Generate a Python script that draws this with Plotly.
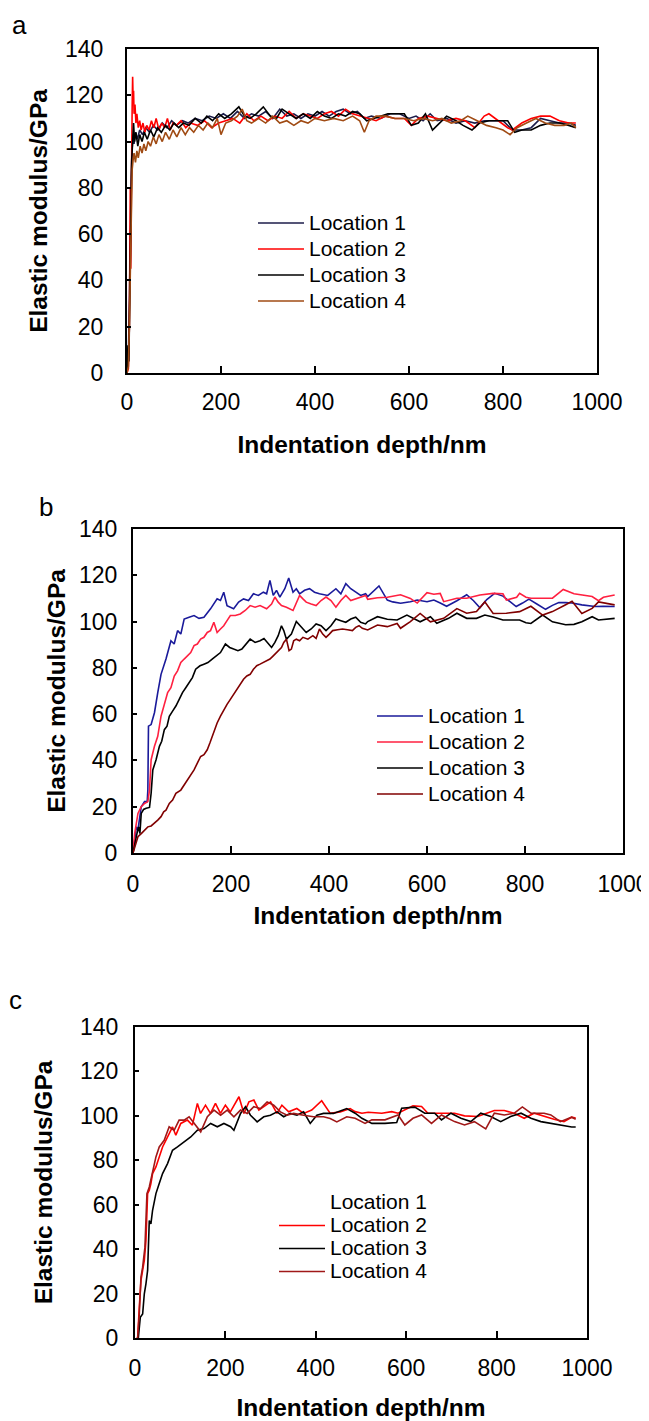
import plotly.graph_objects as go

# page body has an 8px margin, so the figure is 8px smaller than the window
OFF = 8
W, H = 649 - OFF, 1421 - OFF
FONT = 'Liberation Sans, Arial, sans-serif'

labels = ['Location 1', 'Location 2', 'Location 3', 'Location 4']
depth_ticks = [0, 200, 400, 600, 800, 1000]
depth_tick_text = ['0', '200', '400', '600', '800', '1000']

# ---- panel a ----
a_depth_1 = [0, 3, 5, 7, 9, 11, 13, 15, 18, 22, 27, 33, 40, 48, 56, 65, 75, 85, 95, 105, 118, 130, 145, 160,
             175, 190, 205, 220, 235, 250, 265, 280, 295, 310, 325, 340, 355, 370, 385, 400, 415, 430, 445,
             460, 475, 490, 505, 520, 540, 560, 580, 600, 615, 630, 645, 660, 680, 700, 720, 740, 760, 780,
             800, 820, 840, 860, 880, 900, 920, 940, 955]
a_mod_1 = [0, 8, 30, 62, 85, 97, 103, 99, 104, 101, 105, 103, 106, 104, 107, 105, 108, 106, 109, 107, 109, 108,
           110, 109, 111, 110, 112, 110, 113, 110, 112, 111, 113, 110, 114, 111, 112, 110, 112, 111, 113, 111,
           113, 114, 112, 113, 110, 111, 110, 112, 112, 110, 111, 109, 112, 109, 110, 108, 109, 108, 109, 109,
           109, 105, 105, 106, 110, 109, 108, 108, 107]

a_depth_2 = [0, 3, 5, 6, 7, 8, 9, 10, 11, 12, 13, 14, 15, 17, 19, 21, 24, 27, 30, 34, 38, 42, 47, 52, 57, 62,
             68, 74, 80, 86, 92, 98, 105, 115, 125, 135, 150, 165, 180, 195, 210, 225, 240, 255, 270, 285, 300,
             315, 330, 345, 360, 375, 390, 405, 420, 435, 450, 465, 480, 495, 510, 530, 550, 570, 590, 605, 620,
             640, 660, 680, 700, 720, 740, 760, 770, 790, 810, 820, 840, 860, 880, 900, 920, 940, 955]
a_mod_2 = [0, 2, 20, 55, 80, 45, 60, 95, 115, 128, 118, 122, 112, 116, 108, 112, 106, 109, 105, 108, 104, 107,
           105, 109, 106, 110, 105, 108, 106, 110, 105, 108, 107, 109, 106, 108, 107, 109, 106, 108, 109, 110,
           108, 112, 109, 111, 109, 111, 110, 113, 110, 112, 111, 110, 112, 113, 111, 114, 112, 111, 110, 109,
           111, 110, 110, 107, 110, 111, 110, 109, 110, 109, 106, 111, 112, 109, 106, 105, 108, 110, 111, 111,
           109, 108, 108]

a_depth_3 = [0, 2, 4, 6, 8, 10, 12, 14, 16, 19, 23, 27, 32, 37, 43, 50, 57, 65, 73, 82, 91, 100, 110, 120, 132,
             145, 158, 170, 182, 195, 208, 222, 238, 250, 262, 275, 290, 305, 318, 330, 345, 360, 375, 390, 405,
             420, 435, 450, 465, 480, 495, 510, 525, 540, 555, 570, 590, 605, 620, 635, 650, 665, 680, 700, 715,
             734, 750, 770, 790, 810, 825, 840, 860, 880, 900, 920, 940, 955]
a_mod_3 = [0, 12, 5, 40, 70, 92, 100, 108, 100, 104, 98, 103, 100, 104, 101, 105, 102, 106, 104, 107, 105, 108,
           106, 108, 107, 110, 108, 111, 109, 112, 110, 112, 115, 111, 110, 112, 115, 111, 110, 114, 112, 110,
           112, 110, 113, 111, 110, 112, 111, 113, 112, 109, 110, 111, 112, 112, 112, 107, 108, 112, 105, 108,
           111, 109, 107, 105, 108, 109, 109, 109, 104, 105, 105, 107, 108, 108, 107, 106]

a_depth_4 = [0, 3, 5, 7, 9, 11, 13, 15, 18, 21, 24, 28, 32, 36, 40, 45, 50, 56, 62, 68, 75, 82, 90, 98, 106, 115,
             124, 133, 142, 152, 162, 172, 182, 192, 200, 210, 222, 235, 245, 255, 265, 280, 295, 310, 325, 340,
             355, 370, 385, 400, 420, 440, 460, 480, 495, 505, 515, 530, 550, 570, 590, 610, 630, 650, 670, 690,
             710, 725, 745, 765, 785, 800, 815, 830, 850, 870, 890, 910, 930, 945, 955]
a_mod_4 = [0, 3, 20, 50, 75, 88, 92, 95, 91, 96, 93, 98, 95, 99, 96, 100, 98, 102, 99, 103, 100, 104, 101, 105,
           102, 106, 103, 106, 104, 107, 105, 108, 106, 110, 103, 108, 109, 111, 114, 109, 108, 110, 108, 111,
           108, 109, 107, 109, 108, 110, 109, 110, 109, 111, 109, 104, 109, 111, 111, 110, 110, 109, 110, 109,
           110, 108, 109, 111, 109, 107, 106, 105, 103, 106, 108, 110, 108, 107, 107, 108, 106]

# ---- panel b ----
b_depth_1 = [0, 3.4, 6.7, 10, 16.8, 23.6, 29, 30.3, 31.6, 37, 43.8, 50.5, 57.2, 67.3, 77.4, 84, 91, 97.6, 104.4,
             114.5, 124.6, 134.7, 144.8, 158.2, 171.7, 178.5, 185.2, 191.9, 205.4, 215.5, 225.6, 235.7, 245.8,
             255.9, 266, 272.7, 279.5, 286.2, 292.9, 299.7, 309.8, 317.8, 326.6, 333.3, 340, 350.2, 360.3, 370.4,
             380.5, 397.3, 414.1, 424.2, 434.3, 444.4, 454.5, 464.6, 474.7, 479, 502, 519, 530, 546, 566, 580,
             600, 614, 627, 640, 661, 681, 695, 708, 722, 738, 755, 770, 782, 795, 808, 825, 842, 856, 869, 883,
             896, 916, 930, 943, 960, 983]
b_mod_1 = [0, 5.5, 11.3, 9.9, 20, 22.2, 22.2, 27.2, 54.8, 55.5, 60.6, 69.3, 77.2, 83.8, 91.7, 90.3, 96.1, 94.6,
           101.1, 101.9, 102.6, 101.4, 101.9, 105.5, 109.8, 109.1, 112.7, 106.9, 105.5, 108.4, 109.8, 109.1, 112,
           111.3, 112.7, 112, 117.8, 111.3, 113.5, 110.6, 114.2, 118.8, 112.7, 114.2, 112, 113.5, 114.2, 112.7,
           112, 111.3, 114.2, 112, 116.4, 114.2, 112.7, 111.3, 112, 110.8, 115.4, 109.3, 108.5, 107.9, 108.6,
           109.3, 108.6, 109.3, 108, 106.6, 109, 111.6, 109, 106, 109.5, 112.2, 111, 108.5, 106.5, 108, 109.7,
           107.5, 105.3, 107, 108.2, 108.2, 108, 107.2, 106.8, 106.5, 106.6, 106.5]

b_depth_2 = [0, 3.4, 10.1, 16.8, 23.6, 30.3, 33.7, 37, 43.8, 50.5, 57.2, 64, 70.7, 77.4, 84.2, 90.9, 97.6, 104.4,
             111.1, 117.8, 124.6, 131.3, 138, 144.8, 151.5, 158.2, 165, 171.7, 178.5, 185.2, 191.9, 198.7, 208.8,
             218.9, 229, 239.1, 249.2, 259.3, 272.7, 282.8, 289.6, 296.3, 303, 313.1, 326.6, 333.3, 340, 346.8,
             353.5, 363.6, 373.7, 383.8, 393.9, 404, 414.1, 424.2, 434.3, 444.4, 454.5, 464.6, 474.7, 479, 499,
             519, 546, 566, 580, 600, 614, 627, 634, 661, 681, 708, 735, 755, 762, 783, 789, 802, 812, 836, 856,
             870, 878, 900, 916, 937, 950, 960, 983]
b_mod_2 = [0, 8.4, 17.1, 20, 21.4, 22.2, 27.2, 40.3, 46.1, 50.4, 59.1, 64.9, 69.3, 71.4, 76.5, 78.7, 82.3, 83.8,
           85.2, 86.6, 89.6, 90.3, 92.4, 93.2, 95.3, 96.1, 99.7, 95.3, 96.8, 98.2, 100.4, 102.6, 102.6, 103.3,
           104.8, 106.9, 106.2, 106.9, 105.5, 107.6, 110.6, 108.4, 106.9, 106.2, 104.8, 108.4, 111.3, 109.8,
           108.4, 107.6, 106.9, 109.1, 110.6, 109.1, 106.2, 109.1, 111.3, 109.1, 109.8, 110.6, 111.3, 109.6,
           110.3, 110.5, 111.6, 110, 108, 112.5, 111.8, 112.2, 108.6, 110.1, 110.1, 111.5, 112.2, 112, 109.3,
           110.5, 112.2, 110.5, 110.1, 110.1, 110.1, 112.5, 113.9, 112, 111.5, 110.8, 109, 110.5, 111.5]

b_depth_3 = [0, 4.7, 8.8, 11.4, 14.1, 16.8, 21.5, 26.9, 33.7, 37, 40.4, 47.1, 53.9, 58.6, 64, 69.4, 74.1, 80.8,
             87.5, 94.3, 101, 107.7, 114.5, 121.2, 127.9, 136.7, 144.8, 152.9, 161.6, 170.4, 178.5, 188.6, 197.3,
             205.4, 214.1, 222.2, 231, 239.1, 249.2, 259.3, 267.3, 276.1, 282.8, 289.6, 296.3, 303, 307.7, 313.1,
             323.2, 333.3, 343.4, 353.5, 363.6, 373.7, 383.8, 393.9, 404, 414.1, 424.2, 434.3, 444.4, 454.5,
             464.6, 474.7, 479, 499, 519, 539, 559, 586, 607, 620, 644, 661, 681, 701, 718, 735, 755, 775, 789,
             802, 812, 836, 856, 883, 900, 916, 937, 950, 983]
b_mod_3 = [0, 5.5, 9.1, 11.3, 8.4, 17.1, 18.8, 19.3, 19.7, 25.8, 35.9, 40.3, 46.1, 48.3, 53.3, 54.8, 59.1, 61.3,
           63.5, 66.4, 69.3, 71.4, 73.6, 75.8, 79.4, 80.9, 81.6, 82.3, 83.8, 85.2, 86.6, 90.3, 88.8, 88.1, 87.4,
           88.1, 90.3, 92.4, 91, 91.7, 92.7, 90.3, 88.8, 91, 93.9, 98.2, 96.1, 92.4, 94.6, 100, 97.5, 95.3, 96.8,
           99, 98.2, 96.1, 98.2, 101.1, 100.4, 99.7, 101.1, 101.9, 99.7, 99, 100, 102.1, 101, 100.7, 102.8, 99.9,
           102.1, 99.3, 101.4, 103.6, 101.4, 101.4, 102.8, 102, 100.7, 100.7, 100.7, 99.5, 99.2, 102.8, 99.9,
           98.6, 98.8, 99.9, 102.1, 100.7, 101.4]

b_depth_4 = [0, 6.7, 10.1, 16.8, 23.6, 30.3, 37, 43.8, 50.5, 57.2, 62.6, 67.3, 74.1, 80.8, 87.5, 97.6, 104.4,
             111.1, 117.8, 124.6, 131.3, 138, 144.8, 151.5, 156.9, 161.6, 167, 171.7, 178.5, 185.2, 191.9, 198.7,
             205.4, 212.1, 218.9, 225.6, 232.3, 239.1, 245.8, 252.5, 259.3, 266, 272.7, 279.5, 286.2, 292.9,
             298.3, 303, 307.7, 313.1, 318.5, 323.2, 327.9, 333.3, 340, 346.8, 356.9, 367, 373.7, 380.5, 387.2,
             393.9, 400.7, 407.4, 417.5, 427.6, 437.7, 447.8, 454.5, 461.3, 468, 474.7, 479, 499, 519, 539, 546,
             566, 586, 607, 634, 661, 681, 701, 718, 735, 762, 789, 812, 836, 856, 883, 896, 916, 937, 950, 983]
b_mod_4 = [0, 4.1, 7, 8.4, 9.9, 11.3, 11.7, 12.8, 14.2, 15.7, 17.8, 18.5, 21.4, 22.9, 25.8, 27.2, 29.4, 31.6,
           33.8, 35.9, 38.8, 41.7, 42.5, 44.6, 47.5, 50.4, 53.3, 56.2, 59.1, 62, 64.2, 66.4, 68.5, 70.7, 72.9,
           75.1, 76.5, 77.2, 79.4, 80.9, 81.6, 82.3, 83, 83.8, 85.2, 86.6, 88.1, 88.8, 91, 92.4, 87.4, 88.1, 91.7,
           92.4, 91.7, 93.2, 92.4, 93.9, 92.7, 96.8, 94.6, 93.2, 94.6, 96.1, 96.5, 96.8, 96.5, 96.1, 97.5, 98.2,
           97.1, 96.8, 96.4, 98.5, 97.8, 99.2, 97.1, 100, 103.5, 99.9, 101.4, 105.6, 103.6, 104.3, 108.5, 103.5,
           103.6, 104.3, 106.6, 102.8, 104.3, 107.3, 108.8, 103.5, 105.7, 108.5, 107.2]

# ---- panel c ----
c_depth_1 = []
c_mod_1 = []

c_depth_2 = [4, 5.9, 9.5, 13.2, 16.9, 20.6, 24.2, 27.9, 31.6, 35.2, 38.9, 46.3, 53.6, 61, 68.3, 75.6, 83, 90.3,
             101.3, 116, 127, 138, 145, 156, 167, 178, 189, 200, 211, 230, 241, 252, 263, 274, 285, 300, 314,
             325, 340, 358, 373, 391, 413, 432, 454, 476, 487, 502, 516, 546, 568, 582, 615, 634, 648, 678, 707,
             729, 758, 795, 817, 839, 861, 883, 905, 927, 949, 966, 975]
c_mod_2 = [0, 0.3, 13.8, 25.9, 30.4, 34.9, 43.9, 65, 66.5, 69.5, 74, 77, 81.5, 86, 89, 92, 95, 91.3, 96.6, 98.1,
           95.8, 105.6, 101.1, 104.8, 101.1, 105.6, 101.1, 104.8, 101.8, 108.6, 101.1, 106.3, 107.1, 102.6,
           104.1, 106.3, 101.1, 104.8, 101.8, 103.3, 101.1, 102.6, 106.8, 101.1, 101.8, 103.3, 101.9, 101.2,
           101.6, 101.2, 101.9, 101.2, 104.5, 104.2, 101.2, 101.2, 101.2, 100, 99.7, 102.4, 102.4, 101.2, 98.9,
           101.2, 99.7, 98.5, 97.4, 99.4, 99]

c_depth_3 = [7.3, 11.7, 16.9, 20.6, 24.2, 27.9, 31.6, 35.2, 38.9, 46.3, 53.6, 61, 72, 83, 94, 108.7, 123.3, 138,
             152.7, 167.4, 182.1, 196.8, 211.5, 218.8, 233.5, 244.5, 255.5, 270.2, 284.9, 299.6, 314.3, 329,
             343.6, 358.3, 373, 387.7, 402.4, 417.1, 439.1, 468.5, 487, 502, 524, 553, 579, 590, 619, 641, 663,
             678, 699, 721, 743, 765, 787, 809, 831, 854, 876, 898, 920, 941, 966, 975]
c_mod_3 = [0, 9.3, 10.8, 19.9, 24.4, 30.4, 52.9, 51.4, 57.5, 65, 69.5, 74, 78.5, 84.5, 86, 88.3, 90.5, 93.5, 94.3,
           96.6, 95.1, 96.6, 95.1, 93.5, 101.1, 104.1, 100.3, 97.3, 99.6, 100.3, 101.8, 99.6, 101.1, 100.3, 101.8,
           96.6, 100.3, 101.1, 101.1, 103.3, 101.2, 98.9, 96.6, 96.6, 97, 103.4, 103.9, 101.2, 101.2, 98.2, 101.2,
           98.9, 97.4, 101.2, 99.7, 97.4, 99.7, 101.2, 98.9, 97.4, 96.6, 95.9, 95, 95]

c_depth_4 = [5.9, 9.5, 13.2, 16.9, 22, 26.4, 31.6, 38.9, 46.3, 53.6, 64.6, 75.6, 86.6, 97.6, 108.7, 119.7, 130.7,
             145.4, 160.1, 174.7, 189.4, 204.1, 218.8, 233.5, 248.2, 262.9, 277.6, 292.3, 307, 321.7, 336.3, 351,
             373, 395, 417.1, 431.8, 446.5, 468.5, 487, 509, 524, 553, 582, 597, 615, 634, 656, 678, 707, 729,
             751, 776, 795, 817, 839, 857, 876, 905, 920, 941, 966, 975]
c_mod_4 = [0, 10.8, 27.4, 31.9, 40.9, 65, 68, 75.5, 81.5, 86, 89, 95.1, 93.5, 98.1, 98.1, 99.6, 96.6, 92.8, 99.6,
           102.6, 100.3, 102.6, 99.6, 102.6, 101.1, 104.1, 103.3, 106.3, 104.8, 101.8, 100.3, 101.1, 100.3, 99.6,
           99.6, 98.8, 97.3, 99.6, 98.9, 96.6, 98.2, 98.2, 100.4, 95.9, 98.9, 100.4, 96.6, 100.4, 97.4, 95.9,
           97.4, 94.1, 101.2, 100.4, 101.2, 104, 101.2, 101.2, 100.4, 97.4, 99.4, 98.5]

# positions below are in page pixels (figure offset by the body margin)
panels = [
    dict(name='a', x=(127, 597), y=(49, 373),
         series=[(a_depth_1, a_mod_1), (a_depth_2, a_mod_2), (a_depth_3, a_mod_3), (a_depth_4, a_mod_4)],
         colors=['#1c1c4a', '#ff0000', '#000000', '#a04b14'],
         letter=(19, 25), legend=(253, 205), row=17.7,
         ylab_pad=17, ytitle_pad=10, xlab_pad=7, xtitle_pad=22),
    dict(name='b', x=(133, 623), y=(529, 853),
         series=[(b_depth_1, b_mod_1), (b_depth_2, b_mod_2), (b_depth_3, b_mod_3), (b_depth_4, b_mod_4)],
         colors=['#1a1a9a', '#ff2040', '#000000', '#800000'],
         letter=(46, 507), legend=(372, 698), row=17.7,
         ylab_pad=9, ytitle_pad=6, xlab_pad=9, xtitle_pad=11),
    dict(name='c', x=(135, 587), y=(1027, 1338),
         series=[(c_depth_1, c_mod_1), (c_depth_2, c_mod_2), (c_depth_3, c_mod_3), (c_depth_4, c_mod_4)],
         colors=['#ffffff', '#ff0000', '#000000', '#a01818'],
         letter=(15, 1000), legend=(274, 1186), row=15.4,
         ylab_pad=10, ytitle_pad=20, xlab_pad=8, xtitle_pad=27),
]


def px_x(v):
    return (v - OFF) / W


def px_y(v):
    return 1 - (v - OFF) / H


fig = go.Figure()
annotations = []
layout = dict()

for i, p in enumerate(panels):
    n = '' if i == 0 else str(i + 1)
    leg = 'legend' + n
    for lab, (xs, ys), col in zip(labels, p['series'], p['colors']):
        fig.add_trace(go.Scatter(
            x=xs if xs else [None], y=ys if ys else [None], mode='lines',
            name=f'<span style="font-size:21px">{lab}</span>',
            line=dict(color=col, width=1.6), xaxis='x' + n, yaxis='y' + n, legend=leg,
        ))
    axis_common = dict(
        showline=True, linecolor='black', linewidth=2, mirror=True, showgrid=False, zeroline=False,
        ticks='inside', tickcolor='black', tickwidth=1.5,
        tickfont=dict(family=FONT, size=23, color='black'), automargin=False,
    )
    layout['xaxis' + n] = dict(
        axis_common, domain=[px_x(p['x'][0]), px_x(p['x'][1])], range=[0, 1000],
        tickmode='array', tickvals=depth_ticks, ticktext=depth_tick_text, ticklen=7,
        anchor='y' + n, ticklabelstandoff=p['xlab_pad'], ticklabeloverflow='allow',
        title=dict(text='<b>Indentation depth/nm</b>', font=dict(family=FONT, size=24.5, color='black'),
                   standoff=p['xtitle_pad']),
    )
    layout['yaxis' + n] = dict(
        axis_common, domain=[px_y(p['y'][1]), px_y(p['y'][0])], range=[0, 140], dtick=20, ticklen=4,
        anchor='x' + n, ticklabelstandoff=p['ylab_pad'],
        title=dict(text='<b>Elastic modulus/GPa</b>', font=dict(family=FONT, size=24.5, color='black'),
                   standoff=p['ytitle_pad']),
    )
    layout[leg] = dict(
        x=px_x(p['legend'][0]), y=px_y(p['legend'][1]), xanchor='left', yanchor='top',
        bgcolor='rgba(0,0,0,0)', font=dict(family=FONT, size=p['row'], color='black'),
        tracegroupgap=0, itemwidth=46,
    )
    annotations.append(dict(
        text=p['name'], x=px_x(p['letter'][0]), y=px_y(p['letter'][1]), xref='paper', yref='paper',
        showarrow=False, xanchor='center', yanchor='middle', font=dict(family=FONT, size=26, color='black'),
    ))

fig.update_layout(
    width=W, height=H, margin=dict(l=0, r=0, t=0, b=0),
    paper_bgcolor='white', plot_bgcolor='white', showlegend=True,
    annotations=annotations, **layout,
)

fig.write_html('out.html')
